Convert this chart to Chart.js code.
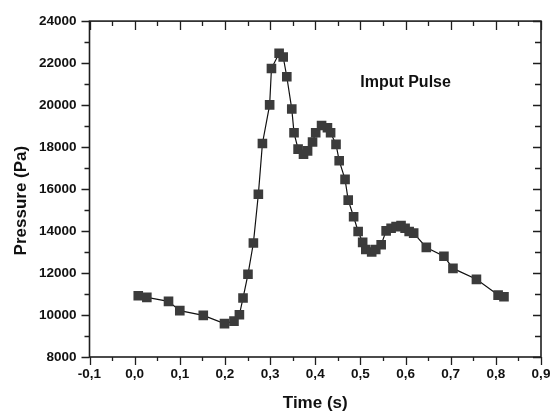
<!DOCTYPE html>
<html>
<head>
<meta charset="utf-8">
<script src="https://cdn.jsdelivr.net/npm/chart.js@4.4.1/dist/chart.umd.min.js"></script>
<style>
  html, body { margin: 0; padding: 0; background: #fff; }
  #wrap { width: 560px; height: 414px; position: relative; }
</style>
</head>
<body>
<div id="wrap"><canvas id="pulse"></canvas></div>
<script>
// values
let timeS = [0.008, 0.027, 0.075, 0.100, 0.152, 0.199, 0.220, 0.232, 0.240, 0.251,
             0.263, 0.274, 0.283, 0.299, 0.303, 0.320, 0.329, 0.337, 0.348, 0.353,
             0.362, 0.374, 0.383, 0.394, 0.401, 0.414, 0.427, 0.434, 0.446, 0.453,
             0.466, 0.473, 0.485, 0.495, 0.505, 0.512, 0.525, 0.534, 0.546, 0.557,
             0.568, 0.579, 0.590, 0.599, 0.608, 0.618, 0.646, 0.685, 0.705, 0.757,
             0.805, 0.818];
let pressurePa = [10920, 10840, 10650, 10210, 9980, 9590, 9710, 10010, 10810, 11940,
                  13430, 15750, 18170, 20010, 21740, 22470, 22290, 21350, 19810, 18680,
                  17900, 17660, 17820, 18240, 18680, 19030, 18920, 18680, 18130, 17350,
                  16460, 15470, 14680, 13980, 13460, 13120, 13000, 13120, 13350, 14010,
                  14130, 14210, 14260, 14130, 13980, 13900, 13220, 12800, 12220, 11700,
                  10950, 10870];
let xTickLabels = ['-0,1', '0,0', '0,1', '0,2', '0,3', '0,4', '0,5', '0,6', '0,7', '0,8', '0,9'];
let yTickLabels = ['8000', '10000', '12000', '14000', '16000', '18000', '20000', '22000', '24000'];

let ink = '#1e1e1e';
let markerCol = '#3b3b3b';
let fontFam = '"Liberation Sans", Arial, sans-serif';

let points = [];
for (let i = 0; i < timeS.length; i++) {
    points.push({ x: timeS[i], y: pressurePa[i] });
}

// frame + ticks on all four sides, placed by the chart's own scales
let framePlugin = {
    id: 'frame',
    afterDraw: function (chart) {
        let ctx = chart.ctx;
        let a = chart.chartArea;
        let xs = chart.scales.x;
        let ys = chart.scales.y;
        ctx.save();
        ctx.strokeStyle = ink;
        ctx.lineWidth = 1.6;
        ctx.strokeRect(a.left, a.top, a.right - a.left, a.bottom - a.top);
        ctx.lineWidth = 1.3;
        ctx.beginPath();
        for (let i = 0; i <= 20; i++) {
            let v = -0.1 + i * 0.05;
            let px = Math.round(xs.getPixelForValue(v)) + 0.5;
            let major = i % 2 == 0;
            // bottom: outward
            ctx.moveTo(px, a.bottom);
            ctx.lineTo(px, a.bottom + (major ? 8 : 4));
            // top: inward
            ctx.moveTo(px, a.top);
            ctx.lineTo(px, a.top + (major ? 9 : 5));
        }
        for (let j = 0; j <= 16; j++) {
            let v = 8000 + j * 1000;
            let py = Math.round(ys.getPixelForValue(v)) + 0.5;
            let major = j % 2 == 0;
            // left: outward
            ctx.moveTo(a.left, py);
            ctx.lineTo(a.left - (major ? 8 : 5), py);
            // right: inward
            ctx.moveTo(a.right, py);
            ctx.lineTo(a.right - (major ? 8 : 6), py);
        }
        ctx.stroke();

        ctx.fillStyle = '#111';
        ctx.textAlign = 'center';
        ctx.textBaseline = 'middle';
        ctx.font = 'bold 16px ' + fontFam;
        ctx.fillText('Imput Pulse', xs.getPixelForValue(0.6), ys.getPixelForValue(21050));

        // y title sits a little below the middle of the axis in the original
        ctx.font = 'bold 17px ' + fontFam;
        ctx.translate(21, ys.getPixelForValue(15450));
        ctx.rotate(-Math.PI / 2);
        ctx.fillText('Pressure (Pa)', 0, 0);
        ctx.restore();
    }
};

new Chart(document.getElementById('pulse'), {
    type: 'line',
    data: {
        datasets: [{
            label: 'Imput Pulse',
            data: points,
            borderColor: '#111',
            borderWidth: 1.2,
            pointStyle: 'rect',
            pointRadius: 6.8,
            pointBackgroundColor: markerCol,
            pointBorderColor: markerCol,
            pointBorderWidth: 0,
            tension: 0,
            fill: false
        }]
    },
    options: {
        responsive: true,
        maintainAspectRatio: false,
        animation: false,
        layout: { padding: { left: 0, right: 19, top: 17, bottom: 0 } },
        plugins: {
            legend: { display: false },
            tooltip: { enabled: false }
        },
        scales: {
            x: {
                type: 'linear',
                min: -0.1,
                max: 0.9,
                grid: { display: false, drawTicks: false },
                border: { display: false },
                ticks: {
                    stepSize: 0.1,
                    padding: 9,
                    color: '#111',
                    font: { family: fontFam, size: 13.5, weight: 'bold' },
                    maxRotation: 0,
                    callback: function (v) {
                        let k = Math.round((v + 0.1) * 10);
                        return xTickLabels[k];
                    }
                },
                title: {
                    display: true,
                    text: 'Time (s)',
                    color: '#111',
                    padding: { top: 8, bottom: 0 },
                    font: { family: fontFam, size: 17, weight: 'bold' }
                },
                afterFit: function (s) { s.height = 57; }
            },
            y: {
                min: 8000,
                max: 24000,
                grid: { display: false, drawTicks: false },
                border: { display: false },
                ticks: {
                    stepSize: 2000,
                    padding: 13,
                    color: '#111',
                    font: { family: fontFam, size: 13.5, weight: 'bold' },
                    callback: function (v) {
                        return yTickLabels[Math.round((v - 8000) / 2000)];
                    }
                },
                afterFit: function (s) { s.width = 89.5; }
            }
        }
    },
    plugins: [framePlugin]
});
</script>
</body>
</html>
